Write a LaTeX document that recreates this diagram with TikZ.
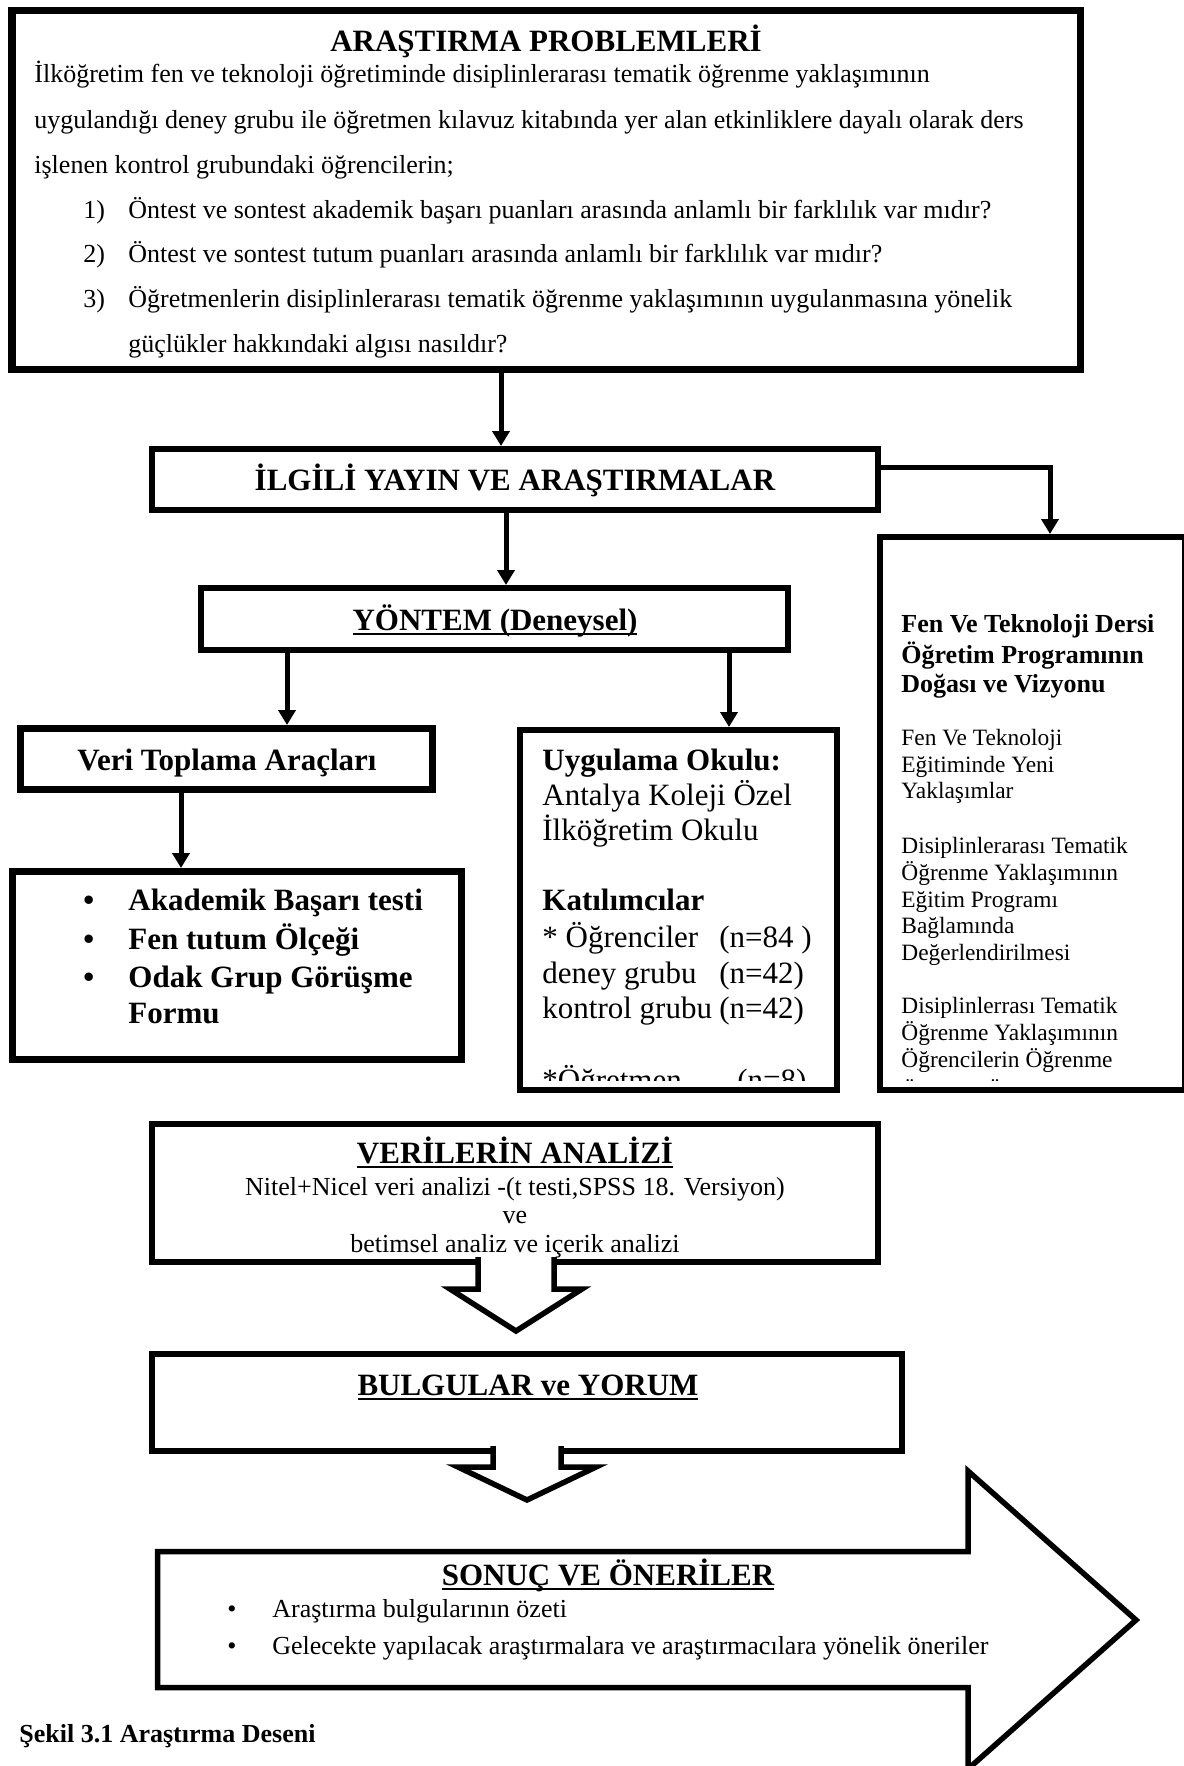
\documentclass[tikz,border=0pt]{standalone}
\usepackage{fontspec}
\setmainfont{Liberation Serif}
\usetikzlibrary{arrows.meta,fit,calc}
\newcommand\myul[1]{\setbox0=\hbox{#1}\rlap{\rule[-2.6pt]{\wd0}{1.3pt}}\box0}
\begin{document}
\begin{tikzpicture}[x=0.5pt,y=-0.5pt,line join=miter,
  box/.style={draw,line width=3pt,inner sep=0pt},
  conn/.style={line width=2.5pt,-{Triangle[length=7.5pt,width=8.5pt]}},
  blockarrow/.style={draw,fill=white,line width=2.75pt,line join=miter},
  ttl/.style={inner sep=0pt,anchor=base,font=\fontsize{15.5}{18}\selectfont\bfseries},
  body/.style={inner sep=0pt,anchor=base west,font=\fontsize{13}{15}\selectfont},
  bodyc/.style={inner sep=0pt,anchor=base,font=\fontsize{13}{15}\selectfont},
  big/.style={inner sep=0pt,anchor=base west,font=\fontsize{15.5}{18}\selectfont},
  bigb/.style={inner sep=0pt,anchor=base west,font=\fontsize{15.5}{18}\selectfont\bfseries},
  side/.style={inner sep=0pt,anchor=base west,font=\fontsize{11.7}{13}\selectfont},
  sideb/.style={inner sep=0pt,anchor=base west,font=\fontsize{13}{15}\selectfont\bfseries}]
\useasboundingbox (0,0) rectangle (1183,1766);
\fill[white] (0,0) rectangle (1183,1766);

% ---------- boxes ----------
\node[box,line width=3.75pt,fit={(11.75,10.75) (1080.25,369.25)}] (top) {};
\node[box,fit={(152,449) (878,510)}] (ilgili) {};
\node[box,fit={(880,537) (1185,1090)}] (right) {};
\node[box,fit={(201,588) (788,650)}] (yontem) {};
\node[box,line width=3.5pt,fit={(20.5,728.5) (432.5,789.5)}] (veri) {};
\node[box,fit={(520,730) (837,1090)}] (uyg) {};
\node[box,line width=3.5pt,fit={(12.5,871.5) (461.5,1059.5)}] (akad) {};
\node[box,fit={(152,1124) (878,1262)}] (analiz) {};
\node[box,fit={(152,1354) (902,1451)}] (bulgu) {};

% ---------- connectors ----------
\coordinate (c1) at (501,0);
\coordinate (c2) at (506,0);
\coordinate (c3) at (0,467);
\coordinate (c4) at (1050,0);
\coordinate (c5) at (287,0);
\coordinate (c6) at (729,0);
\coordinate (c7) at (181,0);
\draw[conn] (top.south -| c1) -- (ilgili.north -| c1);
\draw[conn] (ilgili.south -| c2) -- (yontem.north -| c2);
\draw[conn] (ilgili.east |- c3) -| (right.north -| c4);
\draw[conn] (yontem.south -| c5) -- (veri.north -| c5);
\draw[conn] (yontem.south -| c6) -- (uyg.north -| c6);
\draw[conn] (veri.south -| c7) -- (akad.north -| c7);

% ---------- block arrows ----------
\filldraw[blockarrow] (478,1257) -- (478,1289) -- (450,1289) -- (516,1331) -- (582,1289) -- (554,1289) -- (554,1257);
\filldraw[blockarrow] (493,1446) -- (493,1467) -- (458,1467) -- (527,1500) -- (596,1467) -- (561,1467) -- (561,1446);
\draw[line width=2.75pt,line join=miter] (157.5,1551.5) -- (968,1551.5) -- (968,1471) -- (1136,1620) -- (968,1769) -- (968,1687.5) -- (157.5,1687.5) -- cycle;

% ---------- top box text ----------
\node[ttl] (t0) at (546,52) {ARAŞTIRMA PROBLEMLERİ};
\node[body] (t1) at (34,83) {İlköğretim fen ve teknoloji öğretiminde disiplinlerarası tematik öğrenme yaklaşımının};
\node[body] (t2) at (34,128) {uygulandığı deney grubu ile öğretmen kılavuz kitabında yer alan etkinliklere dayalı olarak ders};
\node[body] (t3) at (34,173) {işlenen kontrol grubundaki öğrencilerin;};
\node[body] (n1) at (83,218) {1)};
\node[body] (q1) at (128,218) {Öntest ve sontest akademik başarı puanları arasında anlamlı bir farklılık var mıdır?};
\node[body] (n2) at (83,262) {2)};
\node[body] (q2) at (128,262) {Öntest ve sontest tutum puanları arasında anlamlı bir farklılık var mıdır?};
\node[body] (n3) at (83,307) {3)};
\node[body] (q3) at (128,307) {Öğretmenlerin disiplinlerarası tematik öğrenme yaklaşımının uygulanmasına yönelik};
\node[body] (q3b) at (128,352) {güçlükler hakkındaki algısı nasıldır?};

% ---------- other titles ----------
\node[ttl] (ilgilit) at (515,490) {İLGİLİ YAYIN VE ARAŞTIRMALAR};
\node[ttl] (yontemt) at (495,630) {\myul{YÖNTEM (Deneysel)}};
\node[ttl] (verit) at (227,770) {Veri Toplama Araçları};

% ---------- Akademik ----------
\node[bigb] (b1) at (83,910) {•};
\node[bigb] (a1) at (128,910) {Akademik Başarı testi};
\node[bigb] (b2) at (83,949) {•};
\node[bigb] (a2) at (128,949) {Fen tutum Ölçeği};
\node[bigb] (b3) at (83,987) {•};
\node[bigb] (a3) at (128,987) {Odak Grup Görüşme};
\node[bigb] (a4) at (128,1023) {Formu};

% ---------- Uygulama ----------
\begin{scope}
\clip (520,730) rectangle (837,1080);
\node[bigb] (u1) at (542,770) {Uygulama Okulu:};
\node[big] (u2) at (542,805) {Antalya Koleji Özel};
\node[big] (u3) at (542,840) {İlköğretim Okulu};
\node[bigb] (u4) at (542,910) {Katılımcılar};
\node[big] (u5) at (542,947) {\makebox[88.5pt][l]{* Öğrenciler}(n=84 )};
\node[big] (u6) at (542,983) {\makebox[88.5pt][l]{deney grubu}(n=42)};
\node[big] (u7) at (542,1018) {\makebox[88.5pt][l]{kontrol grubu}(n=42)};
\node[big] (u8) at (542,1090) {\makebox[97.5pt][l]{*Öğretmen}(n=8)};
\end{scope}

% ---------- right box ----------
\begin{scope}
\clip (880,537) rectangle (1183,1080);
\node[sideb] (r1) at (901,632) {Fen Ve Teknoloji Dersi};
\node[sideb] (r2) at (901,663) {Öğretim Programının};
\node[sideb] (r3) at (901,692) {Doğası ve Vizyonu};
\node[side] (r4) at (901,745) {Fen Ve Teknoloji};
\node[side] (r5) at (901,772) {Eğitiminde Yeni};
\node[side] (r6) at (901,798) {Yaklaşımlar};
\node[side] (r7) at (901,853) {Disiplinlerarası Tematik};
\node[side] (r8) at (901,880) {Öğrenme Yaklaşımının};
\node[side] (r9) at (901,907) {Eğitim Programı};
\node[side] (r10) at (901,933) {Bağlamında};
\node[side] (r11) at (901,960) {Değerlendirilmesi};
\node[side] (r12) at (901,1013) {Disiplinlerrası Tematik};
\node[side] (r13) at (901,1040) {Öğrenme Yaklaşımının};
\node[side] (r14) at (901,1067) {Öğrencilerin Öğrenme};
\node[side] (r15) at (901,1098) {Ürünleri Üzerindeki Etkisi};
\end{scope}

% ---------- analysis ----------
\node[ttl] (an0) at (515,1163) {\myul{VERİLERİN ANALİZİ}};
\node[bodyc] (an1) at (515,1195) {Nitel+Nicel veri analizi -(t testi,SPSS 18. Versiyon)};
\node[bodyc] (an2) at (515,1223) {ve};
\node[bodyc] (an3) at (515,1252) {betimsel analiz ve içerik analizi};

\node[ttl] (bu0) at (528,1395) {\myul{BULGULAR ve YORUM}};

\node[ttl] (so0) at (608,1585) {\myul{SONUÇ VE ÖNERİLER}};
\node[body] (sb1) at (227,1617) {•};
\node[body] (s1) at (272,1617) {Araştırma bulgularının özeti};
\node[body] (sb2) at (227,1654) {•};
\node[body] (s2) at (272,1654) {Gelecekte yapılacak araştırmalara ve araştırmacılara yönelik öneriler};

\node[body,font=\fontsize{13}{15}\selectfont\bfseries] (cap) at (19,1742) {Şekil 3.1 Araştırma Deseni};
\end{tikzpicture}
\end{document}
